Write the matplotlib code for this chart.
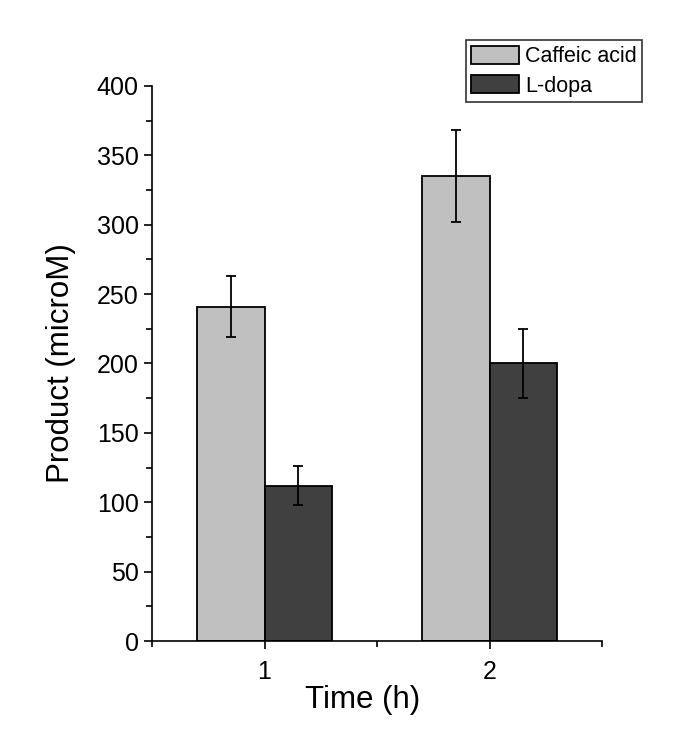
import numpy as np
import matplotlib
matplotlib.use("Agg")
import matplotlib.pyplot as plt
from matplotlib.ticker import MultipleLocator, FixedLocator

plt.rcParams['font.family'] = ['Liberation Sans', 'DejaVu Sans']

times = [1, 2]
series = ['Caffeic acid', 'L-dopa']
caffeic = [241, 335]
caffeic_err = [22, 33]
ldopa = [112, 200]
ldopa_err = [14, 25]
colors = ['#c0c0c0', '#404040']

fig = plt.figure(figsize=(6.98, 7.33), dpi=100)
ax = fig.add_axes([0.2178, 0.1255, 0.6447, 0.7572])

x = np.array(times, dtype=float)
w = 0.3
err_kw = dict(ecolor='black', elinewidth=1.3, capsize=3.5, capthick=1.3)
b1 = ax.bar(x - w / 2, caffeic, w, yerr=caffeic_err, color=colors[0],
            edgecolor='black', linewidth=1.3, label=series[0], error_kw=err_kw)
b2 = ax.bar(x + w / 2, ldopa, w, yerr=ldopa_err, color=colors[1],
            edgecolor='black', linewidth=1.3, label=series[1], error_kw=err_kw)

ax.set_xlim(0.5, 2.5)
ax.set_ylim(0, 400)
ax.set_xticks(times)
ax.xaxis.set_minor_locator(FixedLocator([0.5, 1.5, 2.5]))
ax.yaxis.set_major_locator(MultipleLocator(50))
ax.yaxis.set_minor_locator(MultipleLocator(25))

for s in ['top', 'right']:
    ax.spines[s].set_visible(False)
for s in ['left', 'bottom']:
    ax.spines[s].set_linewidth(1.2)

ax.tick_params(which='major', direction='out', length=6, width=1.2, labelsize=18)
ax.tick_params(which='minor', direction='out', length=4, width=1.2)
ax.tick_params(axis='x', which='major', pad=8)

ax.set_xlabel('Time (h)', fontsize=22.5)
ax.xaxis.set_label_coords(0.469, -0.08)
ax.set_ylabel('Product (microM)', fontsize=22.5, labelpad=15)

leg = fig.legend(handles=[b1, b2], labels=series, loc='upper right',
                 bbox_to_anchor=(0.92, 0.945), fontsize=15.5, frameon=True,
                 fancybox=False, edgecolor='black', handlelength=2.2,
                 handleheight=0.95, borderpad=0.25, labelspacing=0.35,
                 handletextpad=0.3, borderaxespad=0)
leg.get_frame().set_linewidth(1.2)

fig.savefig('out.png', dpi=100)
